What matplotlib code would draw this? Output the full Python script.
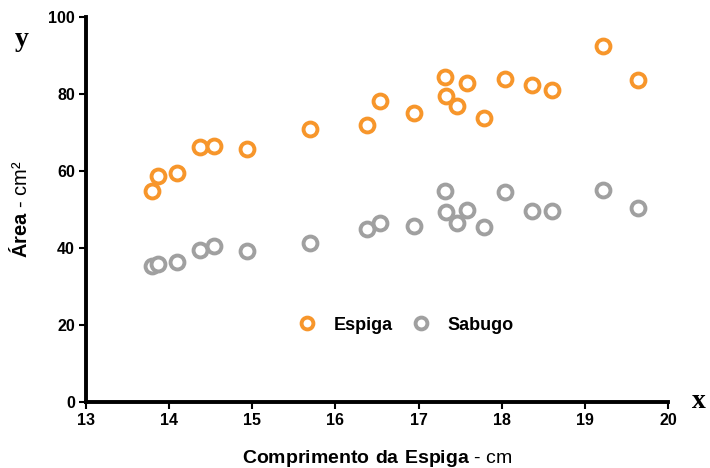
import matplotlib
matplotlib.use('Agg')
import matplotlib.pyplot as plt

plt.rcParams['font.family'] = ['Liberation Sans Narrow', 'Liberation Sans', 'DejaVu Sans']
plt.rcParams['mathtext.fontset'] = 'custom'
plt.rcParams['mathtext.bf'] = 'Liberation Sans:bold'
plt.rcParams['mathtext.rm'] = 'Liberation Sans'

# comprimento da espiga (cm)
comprimento = [13.79, 13.87, 14.10, 14.37, 14.54, 14.94, 15.70, 16.38, 16.54, 16.95,
               17.32, 17.33, 17.46, 17.58, 17.79, 18.04, 18.36, 18.61, 19.22, 19.64]
# área (cm2)
espiga = [54.9, 58.7, 59.5, 66.3, 66.5, 65.8, 70.8, 71.9, 78.1, 75.1,
          84.3, 79.6, 76.8, 82.9, 73.8, 83.8, 82.4, 81.1, 92.4, 83.6]
sabugo = [35.3, 35.8, 36.3, 39.4, 40.6, 39.2, 41.4, 44.9, 46.6, 45.7,
          54.9, 49.4, 46.6, 49.9, 45.5, 54.6, 49.6, 49.5, 55.1, 50.3]

ORANGE = '#F7962B'
GRAY = '#A0A0A0'

fig = plt.figure(figsize=(7.1, 4.68), dpi=100)
ax = fig.add_axes([86/710, 66/468, 582/710, 385/468])

ax.plot(comprimento, espiga, 'o', ms=10, mfc='white', mec=ORANGE, mew=2.8,
        label='Espiga', clip_on=False)
ax.plot(comprimento, sabugo, 'o', ms=10, mfc='white', mec=GRAY, mew=2.8,
        label='Sabugo', clip_on=False)

ax.set_xlim(13, 20)
ax.set_ylim(0, 100)
ax.set_xticks(range(13, 21))
ax.set_yticks(range(0, 101, 20))

for s in ['top', 'right']:
    ax.spines[s].set_visible(False)
for s in ['left', 'bottom']:
    ax.spines[s].set_linewidth(2.8)
ax.tick_params(width=1.5, length=5, labelsize=11.5, pad=3)
for lab in ax.get_xticklabels() + ax.get_yticklabels():
    lab.set_fontweight('bold')

ax.set_xlabel(r'$\mathbf{Comprimento\ da\ Espiga}$ - cm', fontsize=14, labelpad=14)
ax.set_ylabel(r'$\mathbf{Área}$ - cm²', fontsize=14.5, labelpad=12)

fig.text(15/710, 1 - 40/468, 'y', family=['Liberation Serif', 'DejaVu Serif'],
         fontweight='bold', fontsize=20, ha='left', va='center')
fig.text(692/710, 1 - 402/468, 'x', family=['Liberation Serif', 'DejaVu Serif'],
         fontweight='bold', fontsize=20, ha='left', va='center')

leg = ax.legend(loc='center', bbox_to_anchor=(0.542, 0.20), ncol=2, frameon=False,
                prop={'weight': 'bold', 'size': 13}, handletextpad=0.45,
                columnspacing=0.6, markerscale=0.85)

fig.savefig('out.png', dpi=100, facecolor='white')
